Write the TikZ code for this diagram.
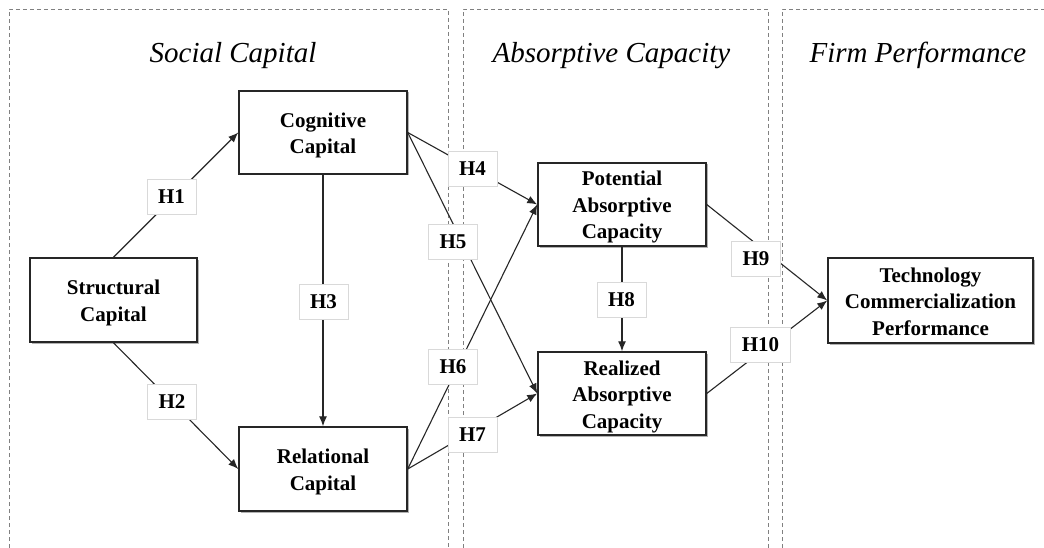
\documentclass[tikz,border=0pt]{standalone}
\usepackage{fontspec}
\setmainfont{Liberation Serif}
\usetikzlibrary{arrows.meta,shadows}
\newcommand\topS{\rule{0pt}{21pt}}
\newcommand\botS{\rule[-5pt]{0pt}{5pt}}
\begin{document}
\begin{tikzpicture}[x=1pt,y=-1pt,
  construct/.style={draw=black!85, line width=1.5pt, fill=white, align=center,
    font=\fontsize{21}{26.5}\selectfont\bfseries, inner sep=0pt,
    drop shadow={shadow xshift=1.5pt, shadow yshift=-1.5pt, opacity=0.3, fill=black}},
  hyp/.style={draw=black!15, line width=0.8pt, fill=white, inner xsep=11pt, inner ysep=0pt,
    minimum height=35pt, font=\fontsize{21}{26}\selectfont\bfseries},
  link/.style={draw=black!85, line width=1.1pt, -{Latex[length=10pt,width=8pt]}},
  region/.style={draw=black!50, line width=0.9pt, dash pattern=on 4pt off 3pt},
  title/.style={font=\fontsize{29}{34}\selectfont\itshape, anchor=base, inner sep=0pt}]
\useasboundingbox (0,0) rectangle (1044,548);
\fill[white] (0,0) rectangle (1044,548);
% regions
\draw[region] (9,548) -- (9,9) -- (448,9) -- (448,548);
\draw[region] (463,548) -- (463,9) -- (768,9) -- (768,548);
\draw[region] (782,548) -- (782,9) -- (1044,9);
\node[title] (t1) at (233,63) {Social Capital};
\node[title] (t2) at (611.5,63) {Absorptive Capacity};
\node[title] (t3) at (918,63) {Firm Performance};
% constructs
\node[construct, minimum width=167pt, minimum height=84pt] (sc) at (113.5,300) {\topS Structural\\Capital\botS};
\node[construct, minimum width=168pt, minimum height=83pt] (cc) at (323,132.5) {\topS Cognitive\\Capital\botS};
\node[construct, minimum width=168pt, minimum height=84pt] (rc) at (323,469) {\topS Relational\\Capital\botS};
\node[construct, minimum width=168pt, minimum height=83pt] (pac) at (622,204.5) {\topS Potential\\Absorptive\\Capacity\botS};
\node[construct, minimum width=168pt, minimum height=83pt] (rac) at (622,393.5) {\topS Realized\\Absorptive\\Capacity\botS};
\node[construct, minimum width=205pt, minimum height=85pt] (tcp) at (930.5,300.5) {\topS Technology\\Commercialization\\Performance\botS};
% links
\draw[link] (sc.north) -- (cc.west);
\draw[link] (sc.south) -- (rc.west);
\draw[link] (cc.south) -- (rc.north);
\draw[link] (cc.east) -- (pac.west);
\draw[link] (cc.east) -- (rac.west);
\draw[link] (rc.east) -- (pac.west);
\draw[link] (rc.east) -- (rac.west);
\draw[link] (pac.south) -- (rac.north);
\draw[link] (pac.east) -- (tcp.west);
\draw[link] (rac.east) -- (tcp.west);
% hypothesis labels
\node[hyp] (h1) at (171.5,197) {H1};
\node[hyp] (h2) at (172,401.5) {H2};
\node[hyp] (h3) at (323.5,301.5) {H3};
\node[hyp] (h4) at (472.5,169) {H4};
\node[hyp] (h5) at (453,241.5) {H5};
\node[hyp] (h6) at (453,367) {H6};
\node[hyp] (h7) at (472.5,434.5) {H7};
\node[hyp] (h8) at (621.5,299.5) {H8};
\node[hyp] (h9) at (756,258.5) {H9};
\node[hyp] (h10) at (760.5,344.5) {H10};
\end{tikzpicture}
\end{document}
